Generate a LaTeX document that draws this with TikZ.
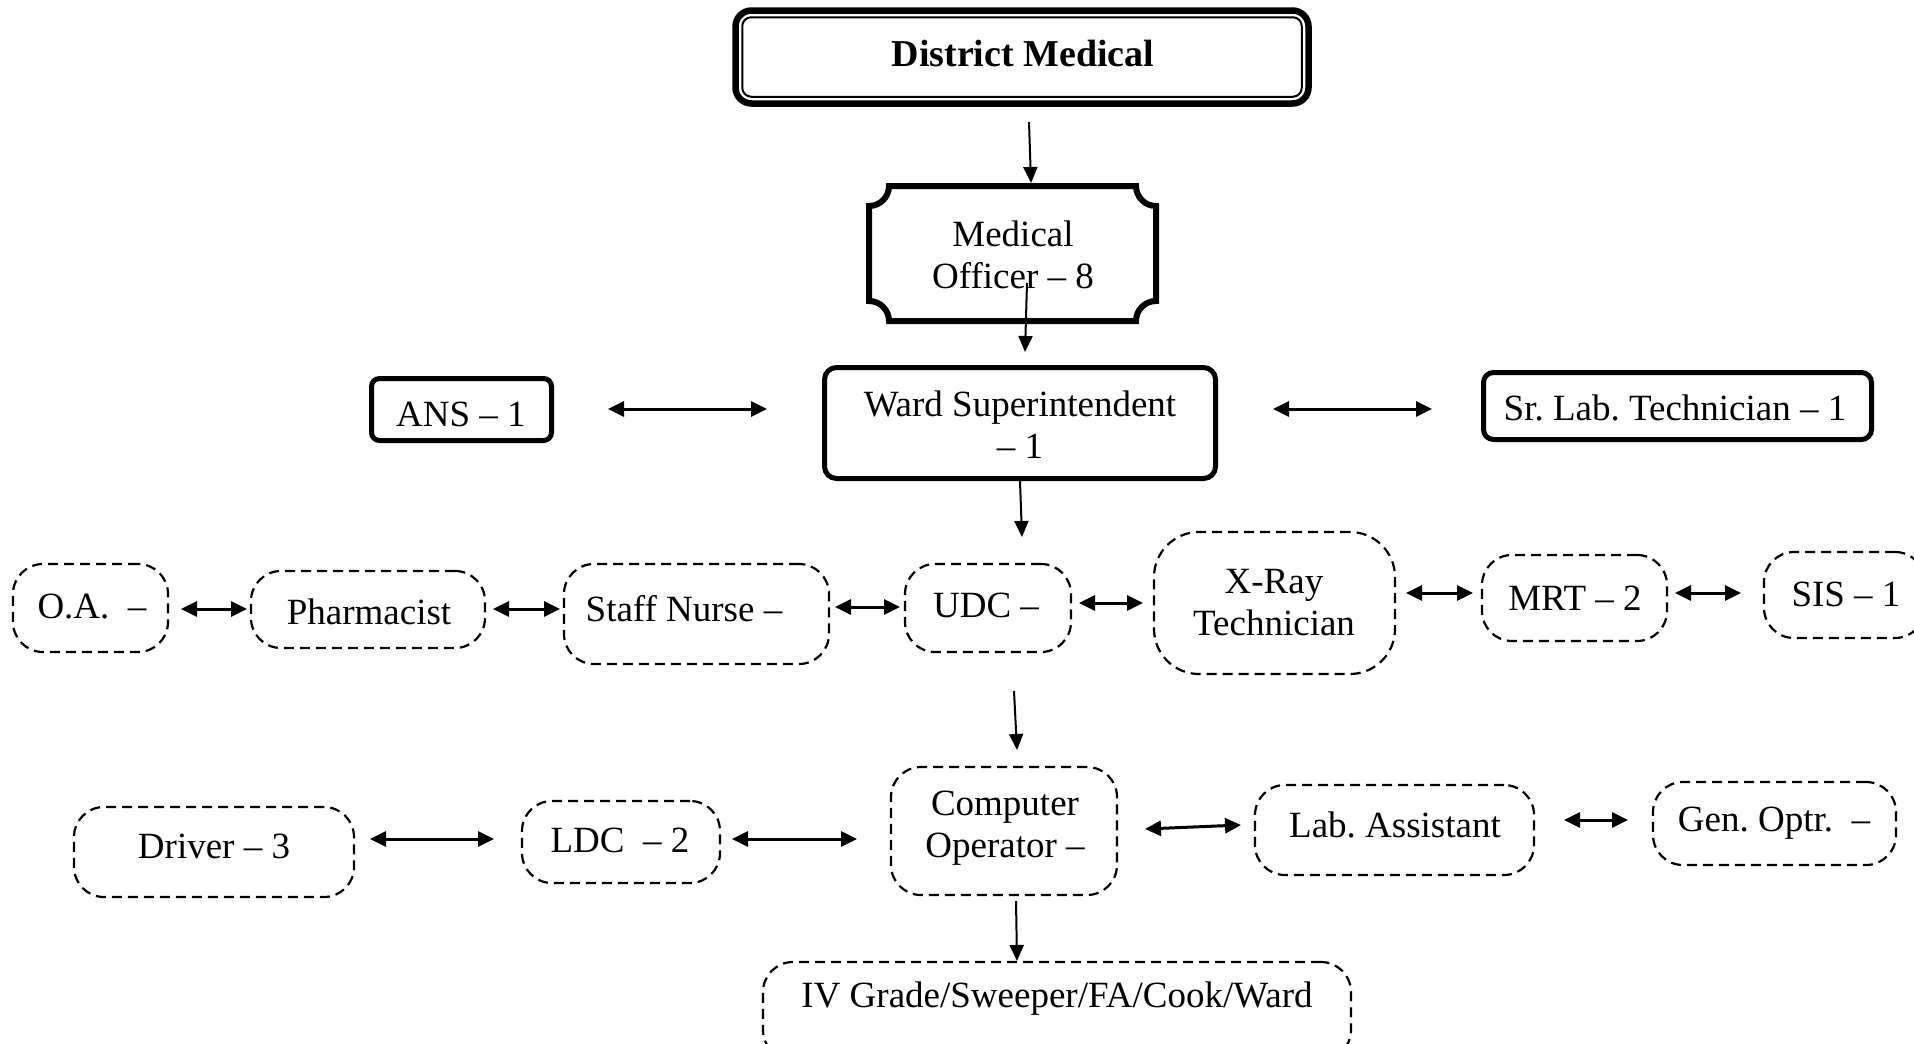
\documentclass[tikz,border=0pt]{standalone}
\usepackage{fontspec}
\setmainfont{Liberation Serif}
\usetikzlibrary{arrows.meta,calc}
\frenchspacing
\begin{document}
\begin{tikzpicture}[x=1pt,y=1pt,
  txt/.style={font=\fontsize{37}{42}\selectfont, inner sep=0pt, align=center},
  solidbox/.style={draw, line width=5pt, rounded corners=12pt, inner sep=0pt},
  dbox/.style={draw, line width=2.2pt, dash pattern=on 10pt off 6pt, rounded corners=30pt, inner sep=0pt},
  varrow/.style={line width=2pt, -{Triangle[length=16pt,width=14pt]}},
  darrow/.style={line width=3pt, {Triangle[length=16pt,width=15pt]}-{Triangle[length=16pt,width=15pt]}},
]
\clip (0,0) rectangle (1914,-1044);

% District Medical
\node[draw, line width=6.5pt, rounded corners=16pt, minimum width=573pt, minimum height=93pt, inner sep=0pt] (dm) at (1022,-57) {};
\draw[line width=2pt, rounded corners=9pt] ($(dm.north west)+(10,-10)$) rectangle ($(dm.south east)+(-10,10)$);
\node[txt, font=\fontsize{38}{42}\selectfont\bfseries] (dmt) at (1023,-54) {District Medical};

% Medical Officer plaque
\coordinate (moc) at (1012.5,-253.5);
\draw[line width=6pt]
  (889,-186) -- (1136,-186) arc[start angle=180, end angle=270, radius=20]
  -- (1156,-301) arc[start angle=90, end angle=180, radius=20]
  -- (889,-321) arc[start angle=0, end angle=90, radius=20]
  -- (869,-206) arc[start angle=270, end angle=360, radius=20] -- cycle;
\node[txt] (mot) at (1013,-255) {Medical\\Officer – 8};

% Ward Superintendent row
\node[solidbox, minimum width=391pt, minimum height=111pt] (ws) at (1020,-423) {};
\node[txt] (wst) at (1020,-425) {Ward Superintendent\\– 1};
\node[solidbox, line width=5pt, rounded corners=8pt, minimum width=180pt, minimum height=62pt] (ans) at (461.5,-409.5) {};
\node[txt] (anst) at (461,-414) {ANS – 1};
\node[solidbox, line width=5pt, rounded corners=10pt, minimum width=388pt, minimum height=67pt] (slt) at (1677.5,-406) {};
\node[txt] (sltt) at (1675,-408) {Sr. Lab. Technician – 1};

% Row 3
\node[dbox, minimum width=155pt, minimum height=88pt] (oa) at (90.5,-608) {};
\node[txt] (oat) at (92,-607) {O.A.~ –};
\node[dbox, minimum width=234pt, minimum height=77pt] (ph) at (368,-609.5) {};
\node[txt] (pht) at (369,-612) {Pharmacist};
\node[dbox, minimum width=265pt, minimum height=100pt] (sn) at (696.5,-614) {};
\node[txt] (snt) at (684,-609) {Staff Nurse –};
\node[dbox, minimum width=166pt, minimum height=88pt] (udc) at (988,-608) {};
\node[txt] (udct) at (986,-605) {UDC –};
\node[dbox, rounded corners=45pt, minimum width=241pt, minimum height=142pt] (xr) at (1274.5,-603) {};
\node[txt] (xrt) at (1274,-603) {X-Ray\\Technician};
\node[dbox, minimum width=185pt, minimum height=86pt] (mrt) at (1574.5,-598) {};
\node[txt] (mrtt) at (1575,-598) {MRT – 2};
\node[dbox, minimum width=161pt, minimum height=86pt] (sis) at (1844.5,-595) {};
\node[txt] (sist) at (1846,-594) {SIS – 1};

% Row 4
\node[dbox, minimum width=280pt, minimum height=90pt] (drv) at (214,-852) {};
\node[txt] (drvt) at (214,-846) {Driver – 3};
\node[dbox, minimum width=198pt, minimum height=82pt] (ldc) at (621,-842) {};
\node[txt] (ldct) at (620,-840) {LDC~ – 2};
\node[dbox, minimum width=226pt, minimum height=128pt] (cop) at (1004,-831) {};
\node[txt] (copt) at (1005,-828) {Computer\\Operator –};
\node[dbox, minimum width=279pt, minimum height=90pt] (lab) at (1394.5,-830) {};
\node[txt] (labt) at (1395,-825) {Lab. Assistant};
\node[dbox, minimum width=243pt, minimum height=83pt] (gen) at (1774.5,-823.5) {};
\node[txt] (gent) at (1774,-823) {Gen. Optr.~ –};
\node[dbox, minimum width=588pt, minimum height=98pt] (iv) at (1057,-1011) {};
\node[txt] (ivt) at (1057,-999) {IV Grade/Sweeper/FA/Cook/Ward};

% arrow end points
\coordinate (a1s) at (1029,-122); \coordinate (a1e) at (1031,-183);
\coordinate (a2s) at (1027,-283); \coordinate (a2e) at (1025,-352);
\coordinate (a3s) at (1020,-481); \coordinate (a3e) at (1022,-537);
\coordinate (a4s) at (1014,-691); \coordinate (a4e) at (1017,-750);
\coordinate (a5s) at (1016,-901); \coordinate (a5e) at (1017,-961);
\coordinate (d1s) at (608,-409);  \coordinate (d1e) at (767,-409);
\coordinate (d2s) at (1273,-409); \coordinate (d2e) at (1432,-409);
\coordinate (d3s) at (181,-609);  \coordinate (d3e) at (247,-609);
\coordinate (d4s) at (493,-609);  \coordinate (d4e) at (560,-609);
\coordinate (d5s) at (835,-607);  \coordinate (d5e) at (900,-607);
\coordinate (d6s) at (1079,-603); \coordinate (d6e) at (1143,-603);
\coordinate (d7s) at (1406,-593); \coordinate (d7e) at (1473,-593);
\coordinate (d8s) at (1675,-593); \coordinate (d8e) at (1741,-593);
\coordinate (d9s) at (370,-839);  \coordinate (d9e) at (494,-839);
\coordinate (d10s) at (732,-839); \coordinate (d10e) at (857,-839);
\coordinate (d11s) at (1145,-829); \coordinate (d11e) at (1241,-825);
\coordinate (d12s) at (1564,-820); \coordinate (d12e) at (1628,-820);

\foreach \i in {1,...,5} \draw[varrow] (a\i s) -- (a\i e);
\foreach \i in {1,...,12} \draw[darrow] (d\i s) -- (d\i e);
\end{tikzpicture}
\end{document}
